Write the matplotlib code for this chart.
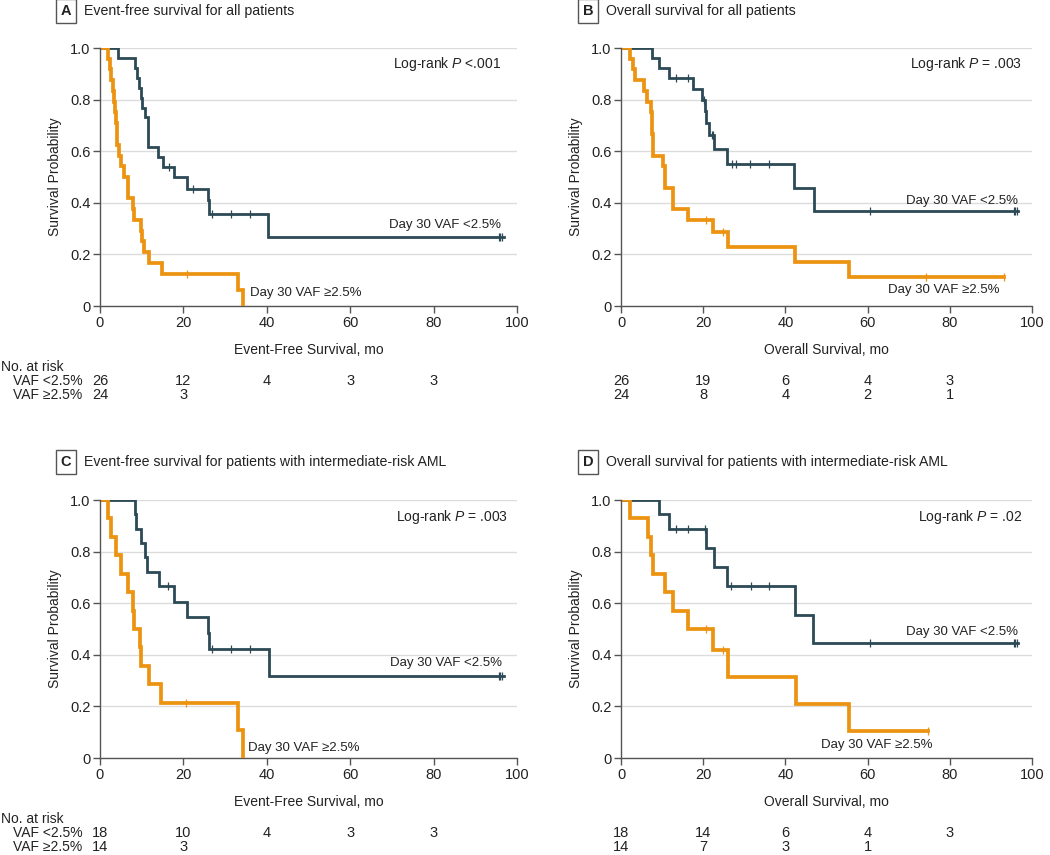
import numpy as np
import matplotlib
matplotlib.use("Agg")
import matplotlib.pyplot as plt
import matplotlib.transforms as mtransforms

plt.rcParams['font.family'] = ['Liberation Sans', 'DejaVu Sans']
plt.rcParams['mathtext.fontset'] = 'custom'
plt.rcParams['mathtext.it'] = 'Liberation Sans:italic'
plt.rcParams['mathtext.rm'] = 'Liberation Sans'

DARK = '#2c4a55'
ORANGE = '#ec9412'
TXT = '#222222'
FS = 9.5

# ---- data: step times / survival / censor times / end of follow-up ----
# Panel A: event-free survival, all patients
A_low_t = [0, 4.4, 8.4, 8.8, 9.4, 9.8, 10.0, 10.8, 11.4, 14.0, 15.2, 17.8, 20.8, 25.8, 26.2, 40.4]
A_low_s = [1.0, 0.962, 0.923, 0.885, 0.846, 0.808, 0.769, 0.731, 0.615, 0.577, 0.538, 0.500, 0.455, 0.410, 0.355, 0.266]
A_low_c = [16.6, 22.4, 26.8, 31.4, 36.0, 95.6, 96.0, 96.4]
A_low_end = 96.8
A_high_t = [0, 1.8, 2.4, 2.7, 3.0, 3.3, 3.6, 3.8, 4.0, 4.1, 4.6, 5.0, 5.8, 6.6, 8.0, 8.2, 9.8, 10.0, 10.6, 11.7, 14.8, 33.0, 34.2]
A_high_s = [1.0, 0.958, 0.917, 0.875, 0.833, 0.792, 0.75, 0.708, 0.667, 0.625, 0.583, 0.542, 0.5, 0.417, 0.375, 0.333, 0.292, 0.25, 0.208, 0.167, 0.125, 0.0625, 0.0]
A_high_c = [20.8]
A_high_end = 34.2

# Panel B: overall survival, all patients
B_low_t = [0, 7.6, 9.3, 11.8, 17.6, 19.8, 20.4, 20.6, 21.5, 22.6, 25.9, 42.2, 46.9]
B_low_s = [1.0, 0.962, 0.923, 0.885, 0.843, 0.800, 0.757, 0.711, 0.664, 0.607, 0.550, 0.458, 0.367]
B_low_c = [13.4, 16.4, 20.1, 22.1, 22.4, 27.1, 28.0, 31.4, 36.1, 60.6, 95.5, 95.9, 96.3]
B_low_end = 96.7
B_high_t = [0, 2.2, 3.0, 3.4, 5.6, 6.4, 7.3, 7.5, 7.6, 7.8, 7.9, 10.1, 10.6, 12.6, 16.2, 22.3, 26.1, 42.4, 55.4]
B_high_s = [1.0, 0.958, 0.917, 0.875, 0.833, 0.792, 0.75, 0.708, 0.667, 0.625, 0.583, 0.542, 0.458, 0.375, 0.333, 0.285, 0.228, 0.171, 0.114]
B_high_c = [20.7, 24.8, 74.3, 93.3]
B_high_end = 93.3

# Panel C: event-free survival, intermediate-risk AML
C_low_t = [0, 8.4, 8.6, 9.8, 10.8, 11.3, 14.1, 17.8, 20.8, 25.8, 26.2, 40.5]
C_low_s = [1.0, 0.944, 0.889, 0.833, 0.778, 0.722, 0.667, 0.606, 0.545, 0.485, 0.424, 0.318]
C_low_c = [16.4, 26.8, 31.4, 36.0, 95.6, 96.0, 96.4]
C_low_end = 96.8
C_high_t = [0, 1.8, 2.6, 3.8, 5.0, 6.6, 7.8, 8.1, 9.6, 9.8, 11.8, 14.7, 33.0, 34.2]
C_high_s = [1.0, 0.929, 0.857, 0.786, 0.714, 0.643, 0.571, 0.5, 0.429, 0.357, 0.286, 0.214, 0.107, 0.0]
C_high_c = [20.6]
C_high_end = 34.2

# Panel D: overall survival, intermediate-risk AML
D_low_t = [0, 9.3, 11.7, 20.6, 22.6, 25.7, 42.4, 46.8]
D_low_s = [1.0, 0.944, 0.889, 0.815, 0.741, 0.667, 0.556, 0.444]
D_low_c = [13.4, 16.4, 20.4, 26.8, 31.6, 36.1, 60.6, 95.5, 95.9, 96.3]
D_low_end = 96.7
D_high_t = [0, 2.2, 6.5, 7.3, 7.9, 10.6, 12.6, 16.2, 22.3, 26.1, 42.5, 55.5]
D_high_s = [1.0, 0.929, 0.857, 0.786, 0.714, 0.643, 0.571, 0.5, 0.417, 0.3125, 0.208, 0.104]
D_high_c = [20.7, 24.9, 74.8]
D_high_end = 74.8

risk_times = [0, 20, 40, 60, 80]
A_risk_low = [26, 12, 4, 3, 3]
A_risk_high = [24, 3]
B_risk_low = [26, 19, 6, 4, 3]
B_risk_high = [24, 8, 4, 2, 1]
C_risk_low = [18, 10, 4, 3, 3]
C_risk_high = [14, 3]
D_risk_low = [18, 14, 6, 4, 3]
D_risk_high = [14, 7, 3, 1]

W, H = 1050, 855
fig = plt.figure(figsize=(W / 100, H / 100), dpi=100)

ROW_HEAD, ROW_LOW, ROW_HIGH = -0.238, -0.292, -0.345


def ax_at(x0, x1, ytop, ybot):
    return fig.add_axes([x0 / W, 1 - ybot / H, (x1 - x0) / W, (ybot - ytop) / H])


def km(ax, t, s, cens, end, color, lw):
    tt = list(t) + [end]
    ss = list(s) + [s[-1]]
    ax.step(tt, ss, where='post', color=color, lw=lw, solid_joinstyle='miter', zorder=3)
    idx = np.searchsorted(t, cens, side='right') - 1
    ax.plot(cens, np.array(s)[idx], ls='none', marker='|', ms=6, mew=0.9, color=color, zorder=4)


def panel(ax, letter, title, tx, ty, low, high, xlabel, plabel, pxy,
          lowlab, highlab, risk_low, risk_high, show_row_labels):
    km(ax, *low, DARK, 2.0)
    km(ax, *high, ORANGE, 2.7)
    ax.set_xlim(0, 100)
    ax.set_ylim(0, 1.0)
    ax.set_xticks([0, 20, 40, 60, 80, 100])
    ax.set_yticks([0, 0.2, 0.4, 0.6, 0.8, 1.0])
    ax.set_yticklabels(['0', '0.2', '0.4', '0.6', '0.8', '1.0'])
    ax.grid(axis='y', color='#dcdcdc', lw=1.0, zorder=0)
    for sp in ['top', 'right']:
        ax.spines[sp].set_visible(False)
    for sp in ['left', 'bottom']:
        ax.spines[sp].set_color('#555555')
        ax.spines[sp].set_linewidth(1.0)
    ax.spines['left'].set_zorder(5)
    ax.tick_params(axis='both', direction='out', length=5, width=1.0,
                   color='#555555', labelsize=10.5, labelcolor=TXT, pad=2)
    ax.set_xlabel(xlabel, fontsize=FS + 0.5, color=TXT)
    ax.xaxis.set_label_coords(0.5, -0.145)
    ax.set_ylabel('Survival Probability', fontsize=FS + 0.5, color=TXT)
    ax.yaxis.set_label_coords(-0.092, 0.5)

    ax.text(pxy[0], pxy[1], plabel, ha='right', va='center', fontsize=FS + 0.5, color=TXT)
    ax.text(lowlab[0], lowlab[1], 'Day 30 VAF <2.5%', ha=lowlab[2], va='center',
            fontsize=FS, color=TXT, zorder=2)
    ax.text(highlab[0], highlab[1], 'Day 30 VAF \u22652.5%', ha=highlab[2], va='center',
            fontsize=FS, color=TXT)

    # panel heading
    fig.text(tx / W, 1 - ty / H, letter, ha='center', va='center', fontsize=10.5,
             fontweight='bold', color=TXT,
             bbox=dict(boxstyle='square,pad=0.35', fc='white', ec='#555555', lw=1.0))
    fig.text((tx + 18) / W, 1 - ty / H, title, ha='left', va='center', fontsize=10.2,
             color=TXT)

    # numbers at risk
    blend = mtransforms.blended_transform_factory(fig.transFigure, ax.transAxes)
    xt = ax.get_xaxis_transform()
    if show_row_labels:
        ax.text(1 / W, ROW_HEAD, 'No. at risk', transform=blend, ha='left', va='center',
                fontsize=10, color=TXT)
        ax.text(13 / W, ROW_LOW, 'VAF <2.5%', transform=blend, ha='left', va='center',
                fontsize=10, color=TXT)
        ax.text(13 / W, ROW_HIGH, 'VAF \u22652.5%', transform=blend, ha='left', va='center',
                fontsize=10, color=TXT)
    for x, n in zip(risk_times, risk_low):
        ax.text(x, ROW_LOW, str(n), transform=xt, ha='center', va='center',
                fontsize=10.5, color=TXT, clip_on=False)
    for x, n in zip(risk_times, risk_high):
        ax.text(x, ROW_HIGH, str(n), transform=xt, ha='center', va='center',
                fontsize=10.5, color=TXT, clip_on=False)


axA = ax_at(100, 517, 48, 306)
axB = ax_at(621, 1032, 48, 306)
axC = ax_at(100, 517, 500, 758)
axD = ax_at(621, 1032, 500, 758)

panel(axA, 'A', 'Event-free survival for all patients', 66, 11,
      (A_low_t, A_low_s, A_low_c, A_low_end), (A_high_t, A_high_s, A_high_c, A_high_end),
      'Event-Free Survival, mo', r'Log-rank $P$ <.001', (96.2, 0.938),
      (96.2, 0.314, 'right'), (36.0, 0.05, 'left'), A_risk_low, A_risk_high, True)
panel(axB, 'B', 'Overall survival for all patients', 588, 11,
      (B_low_t, B_low_s, B_low_c, B_low_end), (B_high_t, B_high_s, B_high_c, B_high_end),
      'Overall Survival, mo', r'Log-rank $P$ = .003', (97.7, 0.938),
      (96.5, 0.408, 'right'), (92.2, 0.062, 'right'), B_risk_low, B_risk_high, False)
panel(axC, 'C', 'Event-free survival for patients with intermediate-risk AML', 66, 462,
      (C_low_t, C_low_s, C_low_c, C_low_end), (C_high_t, C_high_s, C_high_c, C_high_end),
      'Event-Free Survival, mo', r'Log-rank $P$ = .003', (97.8, 0.935),
      (96.3, 0.37, 'right'), (35.5, 0.037, 'left'), C_risk_low, C_risk_high, True)
panel(axD, 'D', 'Overall survival for patients with intermediate-risk AML', 588, 462,
      (D_low_t, D_low_s, D_low_c, D_low_end), (D_high_t, D_high_s, D_high_c, D_high_end),
      'Overall Survival, mo', r'Log-rank $P$ = .02', (97.7, 0.935),
      (96.5, 0.49, 'right'), (75.8, 0.05, 'right'), D_risk_low, D_risk_high, False)

fig.savefig('out.png', dpi=100)
